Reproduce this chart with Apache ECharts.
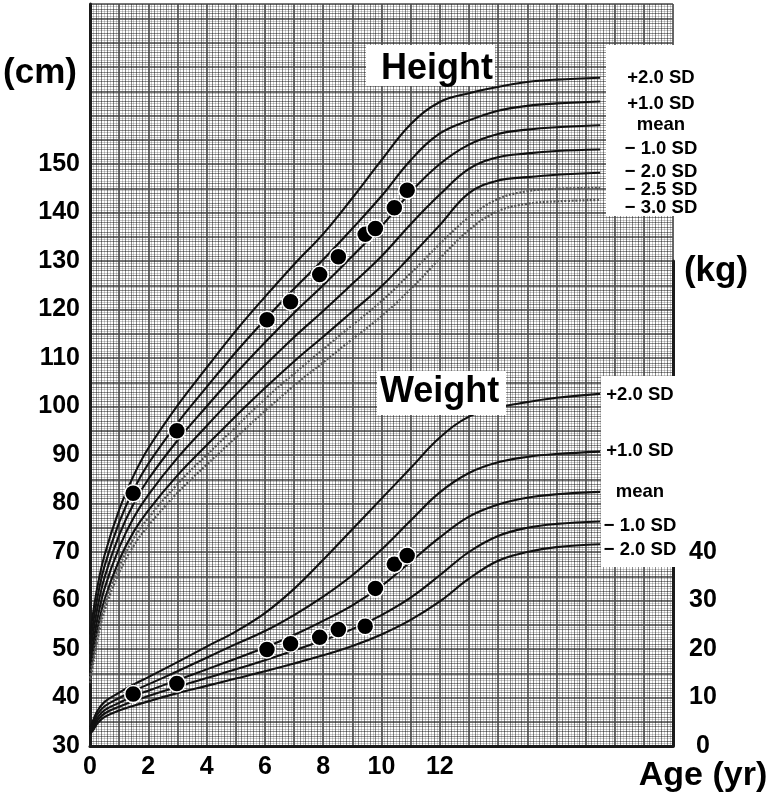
<!DOCTYPE html>
<html><head><meta charset="utf-8">
<script src="https://cdn.jsdelivr.net/npm/echarts@6/dist/echarts.min.js"></script>
<style>html,body{margin:0;padding:0;background:#fff}#c{width:774px;height:801px}</style>
</head><body><div id="c"></div>
<script>
// ---------- DATA ----------
const curveAges = [0, 0.1, 0.25, 0.5, 1, 1.5, 2, 3, 4, 5, 6, 7, 8, 9, 10, 11, 12, 13, 14, 15, 16, 17.5];
// Height (cm)
const heightP2   = [53.0, 57.2, 62.7, 69.4, 78.7, 85.8, 91.4, 100.2, 108.0, 115.6, 122.6, 129.3, 135.6, 143.0, 150.8, 158.2, 162.8, 164.6, 165.9, 166.9, 167.4, 167.8];
const heightP1   = [51.0, 55.1, 60.5, 67.1, 76.1, 82.9, 88.2, 96.6, 104.0, 111.2, 117.9, 124.3, 130.3, 136.7, 143.4, 150.8, 156.3, 159.0, 161.0, 162.0, 162.5, 162.9];
const heightMean = [49.0, 53.0, 58.3, 64.8, 73.5, 80.0, 85.0, 93.0, 100.0, 106.8, 113.2, 119.3, 125.0, 131.0, 137.2, 144.2, 150.0, 154.0, 156.2, 157.1, 157.6, 158.0];
const heightM1   = [47.0, 50.9, 56.1, 62.5, 70.9, 77.1, 81.8, 89.4, 96.0, 102.4, 108.5, 114.3, 119.7, 125.3, 131.0, 137.6, 143.7, 149.0, 151.4, 152.2, 152.7, 153.0];
const heightM2   = [45.0, 48.8, 53.9, 60.2, 68.3, 74.2, 78.6, 85.8, 92.0, 98.0, 103.8, 109.3, 114.4, 119.6, 124.8, 131.0, 137.4, 144.0, 146.6, 147.3, 147.8, 148.2];
const heightM25  = [44.0, 47.8, 52.8, 59.1, 67.0, 72.8, 77.0, 84.0, 90.0, 95.8, 101.5, 106.8, 111.8, 116.8, 121.7, 127.5, 133.5, 139.0, 142.8, 144.4, 144.9, 145.1];
const heightM3   = [43.0, 46.7, 51.7, 57.9, 65.7, 71.3, 75.4, 82.2, 88.0, 93.6, 99.1, 104.3, 109.1, 113.9, 118.6, 124.2, 130.5, 136.4, 140.3, 141.8, 142.3, 142.6];
// Weight (kg)
const weightP2   = [3.9, 5.2, 7.2, 9.1, 11.0, 12.7, 14.2, 17.3, 20.5, 23.6, 27.4, 32.4, 38.4, 44.7, 51.0, 57.3, 63.6, 67.9, 69.8, 70.9, 71.8, 72.6];
const weightP1   = [3.5, 4.7, 6.5, 8.2, 9.9, 11.4, 12.7, 15.4, 18.2, 21.0, 23.7, 27.0, 30.8, 35.2, 40.5, 46.5, 52.3, 56.3, 58.5, 59.6, 60.2, 60.7];
const weightMean = [3.0, 4.1, 5.8, 7.4, 8.9, 10.3, 11.4, 13.6, 15.8, 18.0, 20.3, 22.9, 25.8, 29.0, 33.0, 38.0, 43.0, 47.3, 49.8, 51.2, 51.9, 52.4];
const weightM1   = [2.7, 3.6, 5.2, 6.7, 8.1, 9.3, 10.3, 12.2, 14.0, 15.8, 17.7, 19.7, 21.8, 24.1, 27.0, 30.6, 35.2, 40.0, 43.3, 45.0, 45.8, 46.3];
const weightM2   = [2.4, 3.2, 4.6, 6.0, 7.3, 8.3, 9.2, 10.9, 12.4, 13.9, 15.4, 17.0, 18.7, 20.6, 23.0, 26.0, 29.8, 34.5, 38.2, 40.0, 41.0, 41.6];
// Patient measurements
const visitAges = [1.48, 2.98, 6.07, 6.88, 7.88, 8.52, 9.44, 9.79, 10.44, 10.88];
const patientHeight = [82.1, 95.0, 117.9, 121.6, 127.2, 130.9, 135.5, 136.7, 141.0, 144.6];
const patientWeight = [10.7, 12.9, 19.9, 21.1, 22.4, 24.0, 24.7, 32.5, 37.5, 39.3];
// Text
const heightSdLabels = ['+2.0 SD', '+1.0 SD', 'mean', '\u2212 1.0 SD', '\u2212 2.0 SD', '\u2212 2.5 SD', '\u2212 3.0 SD'];
const weightSdLabels = ['+2.0 SD', '+1.0 SD', 'mean', '\u2212 1.0 SD', '\u2212 2.0 SD'];
const xTickLabels = [0, 2, 4, 6, 8, 10, 12];
const cmTickLabels = [30, 40, 50, 60, 70, 80, 90, 100, 110, 120, 130, 140, 150];
const kgTickLabels = [0, 10, 20, 30, 40];

// ---------- CHART ----------
const FONT = '"Liberation Sans", Arial, sans-serif';
const pair = (xs, ys) => xs.map((x, i) => [x, ys[i]]);
const chart = echarts.init(document.getElementById('c'), null, {renderer: 'canvas'});

function curve(name, data, grid, dotted) {
  return {
    type: 'line', name, data: pair(curveAges, data),
    xAxisIndex: grid === 0 ? 0 : 2, yAxisIndex: grid === 0 ? 0 : 2,
    showSymbol: false, smooth: 0.4, silent: true,
    lineStyle: dotted ? {color: '#555', width: 2.2, type: [2, 1.6]} : {color: '#111', width: 2.1},
    z: 3
  };
}
function points(name, ys, grid) {
  return {
    type: 'scatter', name, data: pair(visitAges, ys),
    xAxisIndex: grid === 0 ? 0 : 2, yAxisIndex: grid === 0 ? 0 : 2,
    symbol: 'circle', symbolSize: 17,
    itemStyle: {color: '#000', borderColor: '#fff', borderWidth: 1.5, opacity: 1},
    z: 5
  };
}

const fineLine = {show: true, lineStyle: {color: 'rgba(0,0,0,0.20)', width: 1}};
const hLabelY = [78, 104, 125, 149, 172, 190, 208];
const wLabelY = [395, 451, 492, 526, 550];
const labelFont = 'bold 18.5px ' + FONT;

const graphics = [
  // Height title
  {type: 'rect', shape: {x: 366, y: 45, width: 129, height: 41}, style: {fill: '#fff'}, z: 100},
  {type: 'text', style: {text: 'Height', x: 381, y: 69, font: 'bold 36px ' + FONT, fill: '#000', align: 'left', verticalAlign: 'middle'}, z: 101},
  // Height SD labels box
  {type: 'rect', shape: {x: 606, y: 45, width: 70, height: 171}, style: {fill: '#fff'}, z: 100},
  // Weight title
  {type: 'rect', shape: {x: 377, y: 371, width: 129, height: 44}, style: {fill: '#fff'}, z: 100},
  {type: 'text', style: {text: 'Weight', x: 380, y: 392, font: 'bold 36px ' + FONT, fill: '#000', align: 'left', verticalAlign: 'middle'}, z: 101},
  // Weight SD labels box
  {type: 'rect', shape: {x: 601, y: 376, width: 80, height: 191}, style: {fill: '#fff'}, z: 100},
  // axis titles
  {type: 'text', style: {text: '(cm)', x: 40, y: 73, font: 'bold 35px ' + FONT, fill: '#000', align: 'center', verticalAlign: 'middle'}, z: 101},
  {type: 'text', style: {text: '(kg)', x: 716, y: 271, font: 'bold 35px ' + FONT, fill: '#000', align: 'center', verticalAlign: 'middle'}, z: 101},
  {type: 'text', style: {text: 'Age (yr)', x: 703, y: 776, font: 'bold 34px ' + FONT, fill: '#000', align: 'center', verticalAlign: 'middle'}, z: 101}
];
heightSdLabels.forEach((t, i) => graphics.push({type: 'text', style: {text: t, x: 661, y: hLabelY[i], font: labelFont, fill: '#000', align: 'center', verticalAlign: 'middle'}, z: 101}));
weightSdLabels.forEach((t, i) => graphics.push({type: 'text', style: {text: t, x: 640, y: wLabelY[i], font: labelFont, fill: '#000', align: 'center', verticalAlign: 'middle'}, z: 101}));

const option = {
  animation: false,
  backgroundColor: '#fff',
  grid: [
    {left: 90, right: 101, top: 4, bottom: 55, show: true, backgroundColor: '#fff', borderWidth: 0},
    {left: 90, right: 101, top: 261, bottom: 55, show: false}
  ],
  xAxis: [
    {type: 'value', gridIndex: 0, min: 0, max: 20, interval: 1, position: 'bottom', z: 2,
     axisLine: {show: true, onZero: false, lineStyle: {color: '#1a1a1a', width: 3}},
     axisTick: {show: false},
     axisLabel: {interval: 0, margin: 9, fontSize: 25, fontWeight: 'bold', fontFamily: FONT, color: '#000',
                 formatter: v => xTickLabels.indexOf(v) >= 0 ? String(v) : ''},
     splitLine: {show: true, lineStyle: {color: '#4a4a4a', width: 1.6}},
     minorTick: {show: false, splitNumber: 5},
     minorSplitLine: {show: true, lineStyle: {color: 'rgba(0,0,0,0.30)', width: 1}}},
    {type: 'value', gridIndex: 0, min: 0, max: 20, interval: 0.1, position: 'bottom', z: 1,
     axisLine: {show: false}, axisTick: {show: false}, axisLabel: {show: false}, splitLine: fineLine},
    {type: 'value', gridIndex: 1, min: 0, max: 20, show: false}
  ],
  yAxis: [
    {type: 'value', gridIndex: 0, min: 30, max: 183, interval: 5, position: 'left', z: 2,
     axisLine: {show: true, onZero: false, lineStyle: {color: '#1a1a1a', width: 3}},
     axisTick: {show: false},
     axisLabel: {interval: 0, margin: 10, fontSize: 25, fontWeight: 'bold', fontFamily: FONT, color: '#000',
                 showMaxLabel: false,
                 formatter: v => cmTickLabels.indexOf(v) >= 0 ? String(v) : ''},
     splitLine: {show: true, lineStyle: {color: '#4a4a4a', width: 1.6}},
     minorTick: {show: false, splitNumber: 5},
     minorSplitLine: {show: true, lineStyle: {color: 'rgba(0,0,0,0.30)', width: 1}}},
    {type: 'value', gridIndex: 0, min: 30, max: 183, interval: 0.5, position: 'left', z: 1,
     axisLine: {show: false}, axisTick: {show: false}, axisLabel: {show: false}, splitLine: fineLine},
    {type: 'value', gridIndex: 1, min: 0, max: 100, interval: 10, position: 'right', z: 2,
     axisLine: {show: true, onZero: false, lineStyle: {color: '#1a1a1a', width: 3}},
     axisTick: {show: false}, splitLine: {show: false},
     axisLabel: {interval: 0, margin: 30, align: 'center', fontSize: 25, fontWeight: 'bold', fontFamily: FONT, color: '#000',
                 formatter: v => kgTickLabels.indexOf(v) >= 0 ? String(v) : ''}}
  ],
  series: [
    curve('Height +2.0 SD', heightP2, 0),
    curve('Height +1.0 SD', heightP1, 0),
    curve('Height mean', heightMean, 0),
    curve('Height -1.0 SD', heightM1, 0),
    curve('Height -2.0 SD', heightM2, 0),
    curve('Height -2.5 SD', heightM25, 0, true),
    curve('Height -3.0 SD', heightM3, 0, true),
    curve('Weight +2.0 SD', weightP2, 1),
    curve('Weight +1.0 SD', weightP1, 1),
    curve('Weight mean', weightMean, 1),
    curve('Weight -1.0 SD', weightM1, 1),
    curve('Weight -2.0 SD', weightM2, 1),
    points('Patient height', patientHeight, 0),
    points('Patient weight', patientWeight, 1)
  ],
  graphic: graphics
};
chart.setOption(option);
</script></body></html>
